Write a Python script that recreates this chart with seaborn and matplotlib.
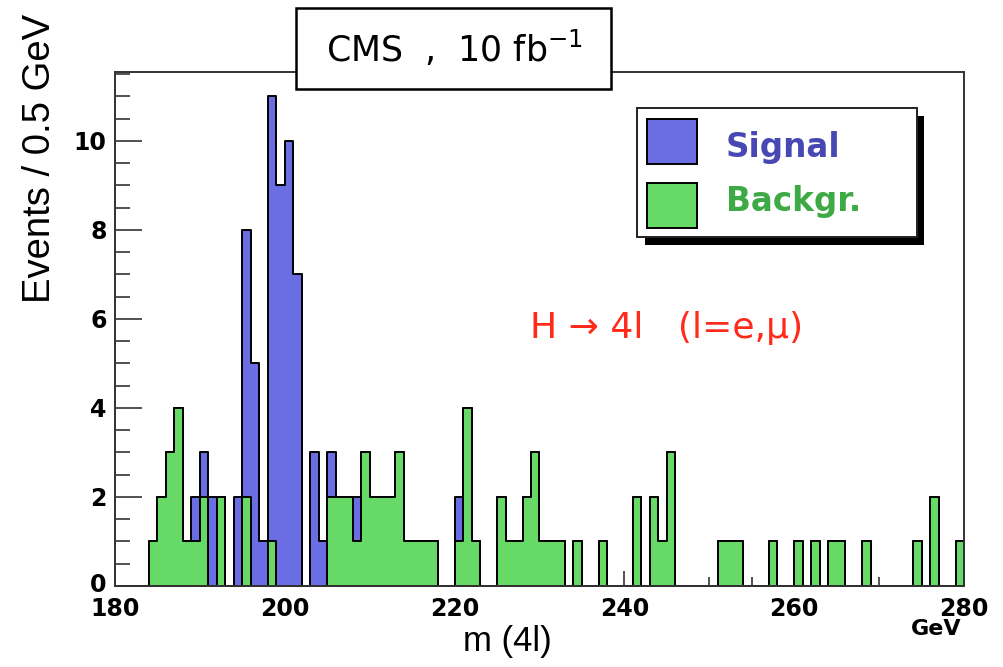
import numpy as np
import pandas as pd
import matplotlib
matplotlib.use("Agg")
import matplotlib.pyplot as plt
import matplotlib.transforms as mtransforms
from matplotlib.patches import Rectangle
import seaborn as sns

# ---- data (1 GeV bins from 180 to 280) ----
bin_start = 180
bin_width = 1.0
n_bins = 100

background = [
    0, 0, 0, 0, 1, 2, 3, 4, 1, 1,   # 180-189
    2, 0, 2, 0, 0, 2, 0, 0, 1, 0,   # 190-199
    0, 0, 0, 0, 0, 2, 2, 2, 1, 3,   # 200-209
    2, 2, 2, 3, 1, 1, 1, 1, 0, 0,   # 210-219
    1, 4, 1, 0, 0, 2, 1, 1, 2, 3,   # 220-229
    1, 1, 1, 0, 1, 0, 0, 1, 0, 0,   # 230-239
    0, 2, 0, 2, 1, 3, 0, 0, 0, 0,   # 240-249
    0, 1, 1, 1, 0, 0, 0, 1, 0, 0,   # 250-259
    1, 0, 1, 0, 1, 1, 0, 0, 1, 0,   # 260-269
    0, 0, 0, 0, 1, 0, 2, 0, 0, 1,   # 270-279
]
signal = [
    0, 0, 0, 0, 0, 0, 0, 0, 0, 1,   # 180-189
    1, 2, 0, 0, 2, 6, 5, 1, 10, 9,  # 190-199
    10, 7, 0, 3, 1, 1, 0, 0, 1, 0,  # 200-209
    0, 0, 0, 0, 0, 0, 0, 0, 0, 0,   # 210-219
    1, 0, 0, 0, 0, 0, 0, 0, 0, 0,   # 220-229
] + [0] * 50

x_ticks = [180, 200, 220, 240, 260, 280]
y_ticks = [0, 2, 4, 6, 8, 10]

# ---- derived ----
edges = [float(bin_start + bin_width * i) for i in range(n_bins + 1)]
centers = [e + bin_width / 2 for e in edges[:-1]]
df = pd.DataFrame({
    "mass": centers,
    "total": np.array(background, float) + np.array(signal, float),
    "bkg": np.array(background, float),
})

BLUE = "#6B6EE2"
GREEN = "#66D966"

sns.set_style("white")
plt.rcParams["font.family"] = ["DejaVu Sans"]
plt.rcParams["text.color"] = "black"

W, H = 1004, 667
fig = plt.figure(figsize=(W / 100, H / 100), dpi=100)


def fx(px):
    return px / W


def fy(py):
    return 1 - py / H


ax = fig.add_axes([fx(115), fy(586), (964 - 115) / W, (586 - 72) / H])

sns.histplot(data=df, x="mass", weights="total", bins=edges, element="step", fill=True,
             color=BLUE, alpha=1.0, edgecolor="black", linewidth=1.4, ax=ax)
sns.histplot(data=df, x="mass", weights="bkg", bins=edges, element="step", fill=True,
             color=GREEN, alpha=1.0, edgecolor="black", linewidth=1.4, ax=ax)

ax.set_xlim(180, 280)
ax.set_ylim(0, 11.55)
ax.set_xlabel("")
ax.set_ylabel("")

ax.set_xticks(x_ticks)
ax.set_xticks(np.arange(180, 281, 5), minor=True)
ax.set_yticks(y_ticks)
ax.set_yticks(np.arange(0, 11.6, 0.5), minor=True)
ax.set_xticklabels([str(t) for t in x_ticks])
ax.set_yticklabels([str(t) for t in y_ticks])

ax.tick_params(axis="x", which="major", direction="in", length=10.8, width=1.1,
               colors="#222222", labelsize=17, pad=8, bottom=True, top=False)
ax.tick_params(axis="x", which="minor", direction="in", length=6.5, width=1.1,
               colors="#222222", bottom=True, top=False)
ax.tick_params(axis="y", which="major", direction="in", length=19.4, width=1.1,
               colors="#222222", labelsize=17, pad=6, left=True, right=False)
ax.tick_params(axis="y", which="minor", direction="in", length=10.8, width=1.1,
               colors="#222222", left=True, right=False)
for lab in ax.get_xticklabels() + ax.get_yticklabels():
    lab.set_fontweight("bold")
    lab.set_color("black")

# lift the "0" label a little so it does not collide with "180"
ylabs = ax.get_yticklabels()
ylabs[0].set_transform(ylabs[0].get_transform() +
                       mtransforms.ScaledTranslation(0, 4 / 100, fig.dpi_scale_trans))

for s in ax.spines.values():
    s.set_visible(True)
    s.set_color("#333333")
    s.set_linewidth(1.4)
    s.set_zorder(5)

# axis titles
fig.text(fx(40), fy(14), "Events / 0.5 GeV", rotation=90, ha="center", va="top",
         fontsize=27.5, color="black", family=["Liberation Sans", "DejaVu Sans"])
fig.text(fx(507), fy(641), "m (4l)", ha="center", va="center", fontsize=25,
         color="black", family=["Liberation Sans", "DejaVu Sans"])
fig.text(fx(936), fy(629), "GeV", ha="center", va="center", fontsize=16,
         fontweight="bold", color="black")

# title box
fig.add_artist(Rectangle((fx(296), fy(89)), (611 - 296) / W, (89 - 8) / H,
                         transform=fig.transFigure, facecolor="white",
                         edgecolor="black", linewidth=1.8, zorder=10))
fig.text(fx(454), fy(49), r"CMS  ,  10 fb$^{\mathregular{-1}}$", ha="center", va="center",
         fontsize=25, color="black", zorder=11)

# legend box with shadow
fig.add_artist(Rectangle((fx(645), fy(245)), (924 - 645) / W, (245 - 116) / H,
                         transform=fig.transFigure, facecolor="black",
                         edgecolor="black", linewidth=0, zorder=10))
fig.add_artist(Rectangle((fx(637), fy(237)), (917 - 637) / W, (237 - 108) / H,
                         transform=fig.transFigure, facecolor="white",
                         edgecolor="#222222", linewidth=1.4, zorder=11))
fig.add_artist(Rectangle((fx(647), fy(164)), 50 / W, 45 / H,
                         transform=fig.transFigure, facecolor=BLUE,
                         edgecolor="black", linewidth=1.4, zorder=12))
fig.add_artist(Rectangle((fx(647), fy(228)), 50 / W, 45 / H,
                         transform=fig.transFigure, facecolor=GREEN,
                         edgecolor="black", linewidth=1.4, zorder=12))
fig.text(fx(726), fy(147), "Signal", ha="left", va="center", fontsize=23.5,
         fontweight="bold", color="#4848B4", zorder=13)
fig.text(fx(726), fy(202), "Backgr.", ha="left", va="center", fontsize=23.5,
         fontweight="bold", color="#3DAA45", zorder=13)

# annotation
fig.text(fx(530), fy(328), "H \u2192 4l   (l=e,\u03bc)", ha="left", va="center",
         fontsize=26, color="#FF2A1A")

fig.savefig("out.png", dpi=100)
